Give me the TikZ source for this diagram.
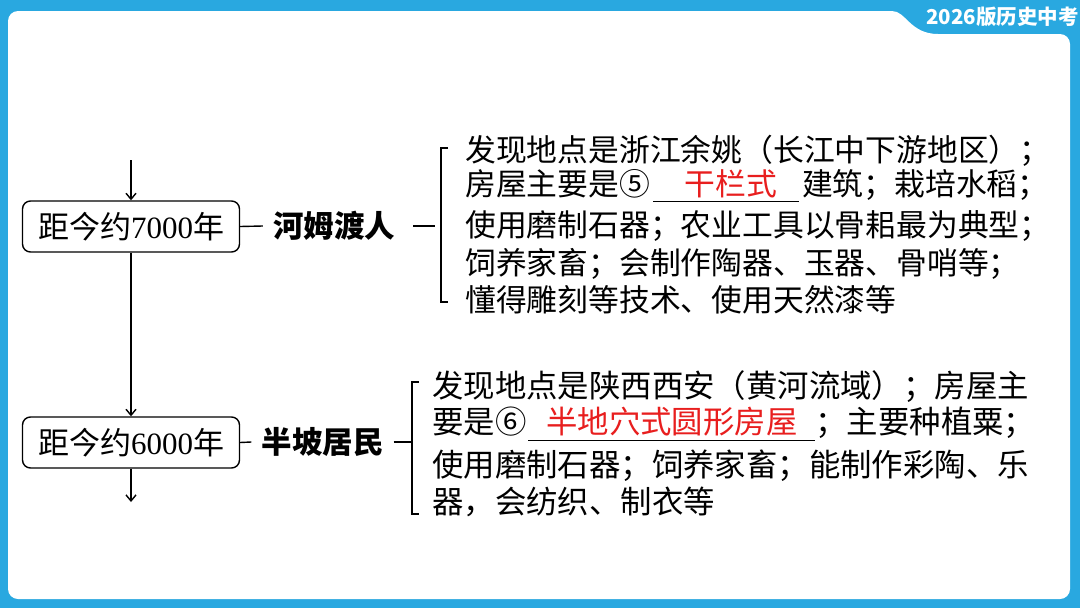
\documentclass[tikz,border=0pt]{standalone}
\usepackage{fontspec}
\setmainfont{Liberation Serif}
\newfontfamily\cjk{Noto Sans CJK SC}
\usetikzlibrary{arrows.meta}
\definecolor{bgblue}{RGB}{41,168,224}
\definecolor{ansred}{RGB}{232,30,30}
\newcommand{\myblank}[3]{\rlap{\rule[#3]{#1}{1.3pt}}\makebox[#1]{\color{ansred}#2}}
\begin{document}
\begin{tikzpicture}[x=1pt,y=-1pt,
  datebox/.style={draw, line width=1.4pt, rounded corners=8pt, minimum width=217pt, minimum height=51pt, inner sep=0pt, font=\fontsize{31pt}{31pt}\selectfont},
  lbl/.style={inner ysep=0pt, inner xsep=10pt, font=\cjk\bfseries\fontsize{30.5pt}{30.5pt}\selectfont},
  txta/.style={anchor=base west, inner sep=0pt, font=\cjk\fontsize{30.8pt}{30.8pt}\selectfont},
  txtb/.style={anchor=base west, inner sep=0pt, font=\cjk\fontsize{31.4pt}{31.4pt}\selectfont},
  conn/.style={line width=1.4pt},
  arr/.style={line width=1.4pt, -{Straight Barb[length=6pt,width=10pt,line width=1.4pt]}}
]
\useasboundingbox (0,0) rectangle (1080,608);
% frame
\fill[bgblue] (0,0) rectangle (1080,608);
\fill[white, rounded corners=10pt] (8,34) rectangle (1070,599);
\fill[white, rounded corners=10pt] (8,11) rectangle (895,60);
\fill[white] (880,11) -- (892,11) .. controls (906,11) and (910,34) .. (938,34) -- (880,40) -- cycle;
\node[anchor=east, text=white, inner sep=0pt, font=\cjk\bfseries\fontsize{20.5pt}{20.5pt}\selectfont] (hdr) at (1079,17) {2026版历史中考};

% timeline
\node[datebox] (b1) at (131,226.5) {{\cjk 距今约}7000{\cjk 年}};
\node[datebox] (b2) at (131,442.5) {{\cjk 距今约}6000{\cjk 年}};
\coordinate (a0) at (131,160);
\coordinate (a1) at (131,502);
\draw[arr] (a0) -- (b1.north);
\draw[arr] (b1.south) -- (b2.north);
\draw[arr] (b2.south) -- (a1);

% labels
\node[lbl] (l1) at (334,226) {河姆渡人};
\node[lbl] (l2) at (322.5,442) {半坡居民};
\draw[conn] (b1.east) -- (l1.west);
\draw[conn] (b2.east) -- (l2.west);

% bracket 1
\coordinate (d1a) at (413,226);
\coordinate (d1b) at (435,226);
\coordinate (br1t) at (441,148);
\coordinate (br1b) at (441,302);
\draw[conn] (d1a) -- (d1b);
\draw[conn] ([xshift=7pt]br1t) -- (br1t) -- (br1b) -- ([xshift=7pt]br1b);

% bracket 2
\coordinate (br2m) at (412,442);
\coordinate (br2t) at (412,382);
\coordinate (br2b) at (412,514);
\draw[conn] (l2.east) -- (br2m);
\draw[conn] ([xshift=7pt]br2t) -- (br2t) -- (br2b) -- ([xshift=7pt]br2b);

% text block 1
\node[txta] (t11) at (465,161.6) {发现地点是浙江余姚（长江中下游地区）；};
\node[txta] (t12) at (465,195) {房屋主要是⑤\hspace{3pt}\myblank{146pt}{\hspace{10pt}干栏式}{-7pt}\hspace{3pt}建筑；栽培水稻；};
\node[txta] (t13) at (465,236.6) {使用磨制石器；农业工具以骨耜最为典型；};
\node[txta] (t14) at (465,274.6) {饲养家畜；会制作陶器、玉器、骨哨等；};
\node[txta] (t15) at (465,311.6) {懂得雕刻等技术、使用天然漆等};

% text block 2
\node[txtb] (t21) at (432,397.9) {发现地点是陕西西安（黄河流域）；房屋主};
\node[txtb] (t22) at (432,433.5) {要是⑥\hspace{2pt}\myblank{287pt}{半地穴式圆形房屋}{-7.5pt}；主要种植粟；};
\node[txtb] (t23) at (432,476.9) {使用磨制石器；饲养家畜；能制作彩陶、乐};
\node[txtb] (t24) at (432,513.9) {器，会纺织、制衣等};
\end{tikzpicture}
\end{document}
